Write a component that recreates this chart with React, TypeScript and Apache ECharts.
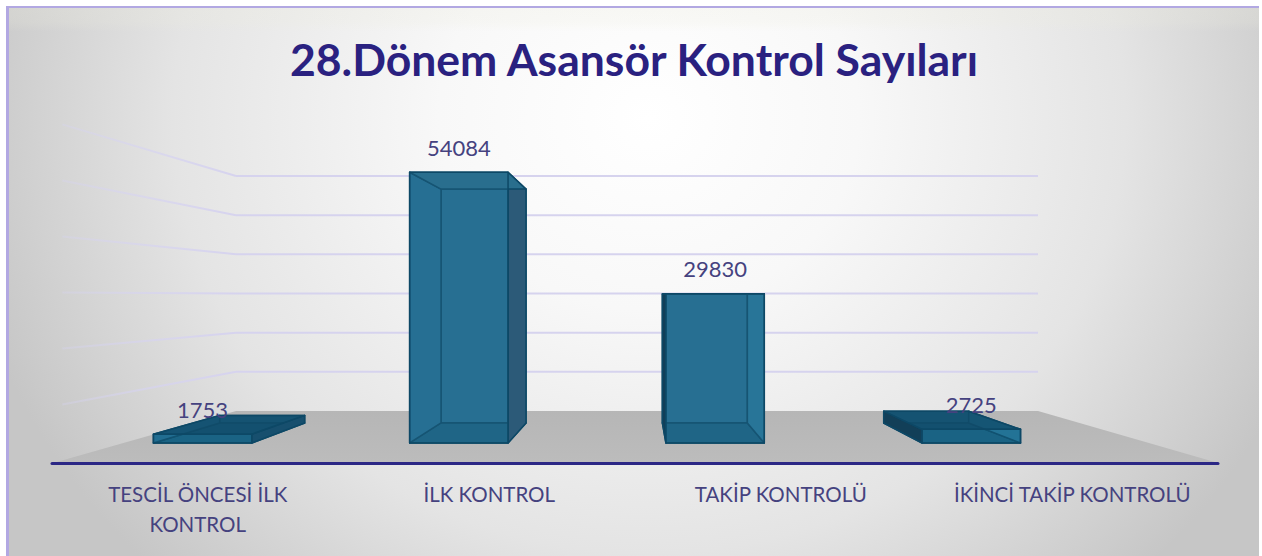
import React, { useEffect, useRef } from "react";
import * as echarts from "echarts";

const titleText = "28.Dönem Asansör Kontrol Sayıları";
const categories = ["TESCİL ÖNCESİ İLK\nKONTROL", "İLK KONTROL", "TAKİP KONTROLÜ", "İKİNCİ TAKİP KONTROLÜ"];
const values = [1753, 54084, 29830, 2725];
const gridTicks = [10000, 20000, 30000, 40000, 50000, 60000];

const VP = { x: 640, y: 296 };
const FLOOR_SCALE = 1.453;
const FRONT_SCALE = 1.278;
const BACK_SCALE = 1.104;
const BAR_RATIO = 0.384;
const FONT = "Lato, Carlito, sans-serif";
const TEXT = "#45427f";

const proj = (p: number[], s: number) => [VP.x + (p[0] - VP.x) * s, VP.y + (p[1] - VP.y) * s];

const poly = (points: number[][], fill: any, stroke = "#0d4866", lineWidth = 1.5) => ({
  type: "polygon",
  shape: { points },
  style: { fill, stroke, lineWidth, lineJoin: "round" },
});

export default function App() {
  const ref = useRef<HTMLDivElement>(null);
  useEffect(() => {
    const chart = echarts.init(ref.current!, null, { renderer: "svg" });

    const renderFloor = (params: any, api: any) => {
      const g = params.coordSys;
      const bl = [g.x, api.coord([0, 0])[1]];
      const br = [g.x + g.width, bl[1]];
      return poly(
        [bl, br, proj(br, FLOOR_SCALE), proj(bl, FLOOR_SCALE)],
        new echarts.graphic.LinearGradient(0, 0, 0, 1, [
          { offset: 0, color: "#b6b6b6" },
          { offset: 1, color: "#bcbcbc" },
        ]),
        "none",
        0
      );
    };

    const renderGrid = (params: any, api: any) => {
      const g = params.coordSys;
      const y = api.coord([0, api.value(0)])[1];
      const a = [g.x, y];
      const b = [g.x + g.width, y];
      const far = proj(a, 1.43);
      return {
        type: "group",
        children: [
          { type: "line", shape: { x1: a[0], y1: a[1], x2: b[0], y2: b[1] }, style: { stroke: "#d6d3ee", lineWidth: 2 } },
          {
            type: "line",
            shape: { x1: far[0], y1: far[1], x2: a[0], y2: a[1] },
            style: {
              stroke: new echarts.graphic.LinearGradient(
                far[0], far[1], a[0], a[1],
                [
                  { offset: 0, color: "rgba(214,211,244,0.3)" },
                  { offset: 1, color: "#d6d3ee" },
                ],
                true
              ),
              lineWidth: 2,
            },
          },
        ],
      };
    };

    const renderBar = (params: any, api: any) => {
      const idx = api.value(0);
      const val = api.value(1);
      const top = api.coord([idx, val]);
      const base = api.coord([idx, 0]);
      const w = api.size([1, 0])[0] * BAR_RATIO;
      const corners = [
        [top[0] - w, top[1]],
        [top[0], top[1]],
        [top[0], base[1]],
        [top[0] - w, base[1]],
      ];
      const f = corners.map((c) => proj(c, FRONT_SCALE));
      const k = corners.map((c) => proj(c, BACK_SCALE));
      const leftDark = f[0][0] > VP.x;
      const rightDark = f[1][0] < VP.x;
      const aboveEye = f[0][1] > VP.y;
      const center = (f[0][0] + f[1][0]) / 2;
      return {
        type: "group",
        children: [
          poly(k, "#266f92"),
          poly([k[3], k[2], f[2], f[3]], "#1a6181"),
          poly([k[0], k[3], f[3], f[0]], leftDark ? "#123f58" : "#246f94"),
          poly([k[1], k[2], f[2], f[1]], rightDark ? (aboveEye ? "#174f6e" : "#2c5a78") : "#27779b"),
          poly([k[0], k[1], f[1], f[0]], aboveEye ? "rgba(18,76,106,0.8)" : "#296e8d"),
          poly(f, aboveEye ? "rgba(26,106,140,0.3)" : "rgba(42,114,146,0.3)"),
          {
            type: "text",
            style: {
              text: String(val),
              x: center,
              y: f[0][1] - 25,
              fill: TEXT,
              font: `22px ${FONT}`,
              textAlign: "center",
              textVerticalAlign: "middle",
            },
            z2: 10,
          },
        ],
      };
    };

    chart.setOption({
      animation: false,
      backgroundColor: "transparent",
      title: {
        text: titleText,
        left: 629,
        top: 53,
        textAlign: "center",
        textVerticalAlign: "middle",
        textStyle: { color: "#2a2180", fontFamily: FONT, fontWeight: "bold", fontSize: 44.5 },
      },
      grid: [
        { left: 236, width: 802, top: 176, height: 235 },
        { left: 52, width: 1166, top: 462, height: 1 },
      ],
      xAxis: [
        { gridIndex: 0, type: "category", data: categories, show: false },
        {
          gridIndex: 1,
          type: "category",
          data: categories,
          z: 10,
          axisLine: { show: true, lineStyle: { color: "#2b2785", width: 3, cap: "round" } },
          axisTick: { show: false },
          axisLabel: {
            interval: 0,
            color: TEXT,
            fontFamily: FONT,
            fontSize: 20.5,
            lineHeight: 30,
            margin: 16,
          },
        },
      ],
      yAxis: [
        { gridIndex: 0, type: "value", min: 0, max: 60000, interval: 10000, show: false, splitLine: { show: false } },
        { gridIndex: 1, type: "value", show: false, splitLine: { show: false } },
      ],
      series: [
        {
          type: "custom",
          name: "floor",
          xAxisIndex: 0,
          yAxisIndex: 0,
          z: 1,
          silent: true,
          data: [[0]],
          encode: { x: 0 },
          renderItem: renderFloor,
          clip: false,
        },
        {
          type: "custom",
          name: "grid",
          xAxisIndex: 0,
          yAxisIndex: 0,
          z: 2,
          silent: true,
          data: gridTicks.map((t) => [t]),
          encode: { y: 0 },
          renderItem: renderGrid,
          clip: false,
        },
        {
          type: "custom",
          name: "bars",
          xAxisIndex: 0,
          yAxisIndex: 0,
          z: 3,
          silent: true,
          data: values.map((v, i) => [i, v]),
          encode: { x: 0, y: 1 },
          renderItem: renderBar,
          clip: false,
        },
      ],
    });
    return () => chart.dispose();
  }, []);

  return (
    <div style={{ position: "fixed", left: 0, top: 0, width: 1262, height: 556, background: "#fff", overflow: "hidden" }}>
      <div
        style={{
          position: "absolute",
          left: 6,
          top: 6,
          width: 1250,
          height: 548,
          borderLeft: "3px solid #b2a8e2",
          borderTop: "2px solid #b2a8e2",
          background:
            "linear-gradient(180deg, rgba(236,236,222,0.25) 0px, rgba(236,236,222,0.2) 14px, rgba(236,236,222,0) 24px), radial-gradient(ellipse 700px 640px at 640px 110px, #ffffff 0%, #f8f8f8 30%, #e4e4e4 68%, #c6c6c6 100%)",
        }}
      />
      <div ref={ref} style={{ position: "absolute", left: 0, top: 0, width: 1262, height: 556 }} />
    </div>
  );
}
